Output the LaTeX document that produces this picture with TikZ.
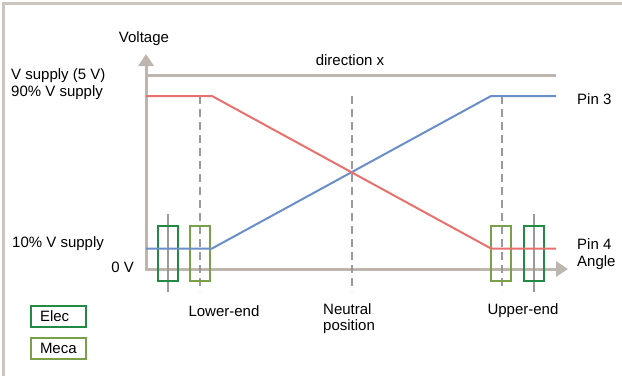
\documentclass[tikz,border=0pt]{standalone}
\usepackage{fontspec}
\setmainfont{Liberation Sans}
\usetikzlibrary{arrows.meta}
\definecolor{axisgray}{HTML}{BEB5AE}
\definecolor{framegray}{HTML}{CCC4BE}
\definecolor{pinred}{HTML}{E8706E}
\definecolor{pinblue}{HTML}{6A8FC8}
\definecolor{elecgreen}{HTML}{228A45}
\definecolor{mecagreen}{HTML}{7BA04A}
\definecolor{dashgray}{HTML}{9A9A9A}
\tikzset{
  axisline/.style={draw=axisgray, line width=3pt},
  tipaxis/.style={{Triangle[length=12pt,width=15pt]}-{Triangle[length=12pt,width=15pt]}, axisgray},
  pinline/.style={line width=2pt, line join=miter},
  dashline/.style={draw=dashgray, line width=2pt, dash pattern=on 8pt off 5pt},
  elecline/.style={draw=dashgray, line width=2pt},
  elecbox/.style={draw=elecgreen, line width=2pt, minimum width=20pt, minimum height=55pt, inner sep=0pt},
  mecabox/.style={draw=mecagreen, line width=2pt, minimum width=20pt, minimum height=55pt, inner sep=0pt},
  lbl/.style={inner sep=0pt, text=black},
  legend/.style={line width=2pt, text width=37pt, inner xsep=9pt, inner ysep=0pt, minimum height=21pt, align=left}
}
\begin{document}
\begin{tikzpicture}[x=1pt,y=-1pt,font=\fontsize{15}{16}\selectfont]
\useasboundingbox (0,0) rectangle (622,376);
% frame
\draw[framegray, line width=3pt] (3,376) -- (3,3) -- (622,3);

% coordinates
\coordinate (ytip) at (146,54);
\coordinate (orig) at (146,269);
\coordinate (xtip) at (568,269);
\coordinate (supL) at (146,75);
\coordinate (supR) at (556,75);
\coordinate (hiL) at (146,96);
\coordinate (hiA) at (212,96);
\coordinate (hiB) at (491,96);
\coordinate (hiR) at (556,96);
\coordinate (loL) at (146,248.5);
\coordinate (loA) at (212,248.5);
\coordinate (loB) at (491,248.5);
\coordinate (loR) at (556,248.5);
\coordinate (d1t) at (200,96);
\coordinate (d1b) at (200,291);
\coordinate (d2t) at (351.5,96);
\coordinate (d2b) at (351.5,291);
\coordinate (d3t) at (501.5,96);
\coordinate (d3b) at (501.5,291);
\coordinate (e1t) at (167.5,214);
\coordinate (e1b) at (167.5,292);
\coordinate (e2t) at (533.5,214);
\coordinate (e2b) at (533.5,292);

% axes
\draw[axisline, tipaxis] (ytip) -- (orig) -- (xtip);
\draw[axisline] (supL) -- (supR);

% vertical reference lines
\draw[dashline] (d1t) -- (d1b);
\draw[dashline] (d2t) -- (d2b);
\draw[dashline] (d3t) -- (d3b);
\draw[elecline] (e1t) -- (e1b);
\draw[elecline] (e2t) -- (e2b);

% tolerance boxes
\node[elecbox] (elecL) at (167.5,253) {};
\node[mecabox] (mecaL) at (200.3,253) {};
\node[mecabox] (mecaR) at (501.3,253) {};
\node[elecbox] (elecR) at (533.8,253) {};

% pin curves
\draw[pinline, pinblue] (loL) -- (loA) -- (hiB) -- (hiR);
\draw[pinline, pinred] (hiL) -- (hiA) -- (loB) -- (loR);

% labels
\node[lbl] (voltage) at (144,39) {Voltage};
\node[lbl, anchor=west] (vsup) at (11,76) {V supply (5 V)};
\node[lbl, anchor=west] (v90) at (11,93) {90\% V supply};
\node[lbl, anchor=west] (v10) at (12,244) {10\% V supply};
\node[lbl, anchor=east] (v0) at (134,267) {0 V};
\node[lbl] (dirx) at (350,60) {direction x};
\node[lbl, anchor=west] (pin3) at (577,99) {Pin 3};
\node[lbl, anchor=west] (pin4) at (577,244) {Pin 4};
\node[lbl, anchor=west] (angle) at (577,263) {Angle};
\node[lbl] (lower) at (224,311) {Lower-end};
\node[lbl, anchor=west, align=left] (neutral) at (323,319) {Neutral\\position};
\node[lbl] (upper) at (523,311) {Upper-end};

% legend
\node[legend, draw=elecgreen] (legelec) at (58.5,316.5) {Elec};
\node[legend, draw=mecagreen] (legmeca) at (58.5,348.5) {Meca};
\end{tikzpicture}
\end{document}
